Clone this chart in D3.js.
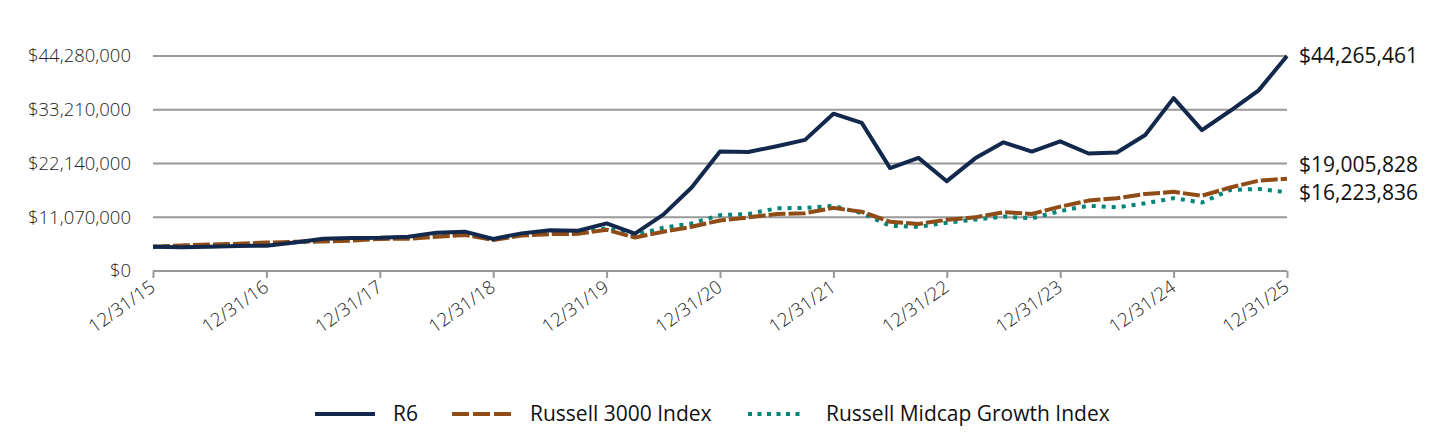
<!DOCTYPE html>
<html>
<head>
<meta charset="utf-8">
<script src="https://cdn.jsdelivr.net/npm/d3@7"></script>
<style>
  html, body { margin: 0; padding: 0; background: #fff; }
  svg { display: block; font-family: "Open Sans", "Noto Sans", sans-serif; }
</style>
</head>
<body>
<svg id="chart" width="1440" height="432"></svg>
<script>
// ---- data (values in $ millions) ----
const quarters = [
  "12/31/15","3/31/16","6/30/16","9/30/16","12/31/16","3/31/17","6/30/17","9/30/17",
  "12/31/17","3/31/18","6/30/18","9/30/18","12/31/18","3/31/19","6/30/19","9/30/19",
  "12/31/19","3/31/20","6/30/20","9/30/20","12/31/20","3/31/21","6/30/21","9/30/21",
  "12/31/21","3/31/22","6/30/22","9/30/22","12/31/22","3/31/23","6/30/23","9/30/23",
  "12/31/23","3/31/24","6/30/24","9/30/24","12/31/24","3/31/25","6/30/25","9/30/25",
  "12/31/25"
];
const r6 = [5.0, 4.9, 5.0, 5.15, 5.2, 5.85, 6.65, 6.8, 6.85, 7.05, 7.9, 8.1, 6.6, 7.75, 8.4, 8.3,
  9.8, 7.7, 11.6, 17.2, 24.6, 24.5, 25.7, 27.0, 32.4, 30.5, 21.2, 23.3, 18.5, 23.2, 26.5, 24.6,
  26.7, 24.2, 24.4, 28.0, 35.6, 29.0, 33.0, 37.2, 44.265461];
const russell3000 = [5.0, 5.25, 5.45, 5.6, 5.85, 6.0, 6.1, 6.25, 6.6, 6.65, 7.05, 7.4, 6.4, 7.3, 7.6, 7.65,
  8.5, 6.9, 8.1, 9.1, 10.4, 11.05, 11.75, 11.9, 13.0, 12.2, 10.15, 9.7, 10.55, 11.05, 12.1, 11.75,
  13.25, 14.5, 15.0, 15.85, 16.3, 15.5, 17.2, 18.6, 19.005828];
const midcapGrowth = [5.0, 5.2, 5.35, 5.5, 5.6, 5.9, 6.2, 6.5, 6.8, 6.9, 7.2, 7.6, 6.5, 7.5, 7.8, 7.8,
  8.8, 7.4, 8.9, 9.8, 11.5, 11.75, 12.9, 13.0, 13.4, 11.9, 9.3, 9.1, 9.95, 10.6, 11.2, 10.85,
  12.35, 13.45, 13.1, 13.95, 15.0, 14.1, 16.7, 16.9, 16.223836];
const seriesNames = ["R6", "Russell 3000 Index", "Russell Midcap Growth Index"];
const endLabels = ["$44,265,461", "$19,005,828", "$16,223,836"];
const yTicks = [0, 11.07, 22.14, 33.21, 44.28];
const yTickLabels = ["$0", "$11,070,000", "$22,140,000", "$33,210,000", "$44,280,000"];
const xTicks = ["12/31/15","12/31/16","12/31/17","12/31/18","12/31/19","12/31/20",
  "12/31/21","12/31/22","12/31/23","12/31/24","12/31/25"];

// ---- styles ----
const styles = [
  { color: "#12284c", dash: null, width: 4 },
  { color: "#8f4c16", dash: "17,3", width: 4 },
  { color: "#00857a", dash: "4,6", width: 4 }
];

const svg = d3.select("#chart");
const x = d3.scalePoint().domain(quarters).range([153, 1287]);
const y = d3.scaleLinear().domain([0, 44.28]).range([271, 56]);

// gridlines
svg.append("g").selectAll("line").data(yTicks.filter(d => d > 0)).join("line")
  .attr("x1", 153).attr("x2", 1287)
  .attr("y1", d => y(d)).attr("y2", d => y(d))
  .attr("stroke", "#999").attr("stroke-width", 2);

// y tick labels
svg.append("g").selectAll("text").data(yTicks).join("text")
  .attr("x", 131).attr("y", d => y(d)).attr("dy", "0.35em")
  .attr("text-anchor", "end").attr("font-size", 18.5).attr("font-weight", 300)
  .attr("fill", "#222")
  .text((d, i) => yTickLabels[i]);

// x axis
const xAxis = d3.axisBottom(x).tickValues(xTicks).tickSize(7).tickSizeOuter(0);
const gx = svg.append("g").attr("transform", "translate(0,271)").call(xAxis);
gx.select(".domain").attr("stroke", "#999").attr("stroke-width", 2)
  .attr("d", "M153,0H1287");
gx.selectAll(".tick line").attr("stroke", "#999").attr("stroke-width", 2);
gx.selectAll(".tick text")
  .attr("font-size", 18.5).attr("font-weight", 300).attr("fill", "#222")
  .attr("font-family", "'Open Sans', 'Noto Sans', sans-serif")
  .attr("text-anchor", "end")
  .attr("dy", null).attr("y", 0)
  .attr("transform", "translate(3,19) rotate(-35)");

// lines
const allSeries = [r6, russell3000, midcapGrowth];
const line = d3.line().x((d, i) => x(quarters[i])).y(d => y(d));
[2, 1, 0].forEach(k => {
  svg.append("path").datum(allSeries[k])
    .attr("d", line)
    .attr("fill", "none")
    .attr("stroke", styles[k].color)
    .attr("stroke-width", styles[k].width)
    .attr("stroke-dasharray", styles[k].dash)
    .attr("stroke-linejoin", "round");
});

// end labels with overlap avoidance (push upper labels up)
const lbl = allSeries.map((s, k) => ({ k, y: y(s[s.length - 1]) }));
lbl.sort((a, b) => b.y - a.y);
for (let i = 1; i < lbl.length; i++) {
  if (lbl[i - 1].y - lbl[i].y < 28) lbl[i].y = lbl[i - 1].y - 28;
}
svg.append("g").selectAll("text").data(lbl).join("text")
  .attr("x", 1299).attr("y", d => d.y).attr("dy", "0.35em")
  .attr("font-size", 21).attr("fill", "#111")
  .text(d => endLabels[d.k]);

// legend
const legendItems = [
  { k: 0, x1: 315, x2: 375, tx: 393 },
  { k: 1, x1: 452, x2: 512, tx: 530 },
  { k: 2, x1: 748, x2: 802, tx: 826 }
];
const lg = svg.append("g");
legendItems.forEach(it => {
  lg.append("line").attr("x1", it.x1).attr("x2", it.x2).attr("y1", 414).attr("y2", 414)
    .attr("stroke", styles[it.k].color).attr("stroke-width", 4)
    .attr("stroke-dasharray", it.k === 1 ? "17,4" : (it.k === 2 ? "4,5.5" : null));
  lg.append("text").attr("x", it.tx).attr("y", 414).attr("dy", "0.35em")
    .attr("font-size", 21).attr("fill", "#111").text(seriesNames[it.k]);
});
</script>
</body>
</html>
